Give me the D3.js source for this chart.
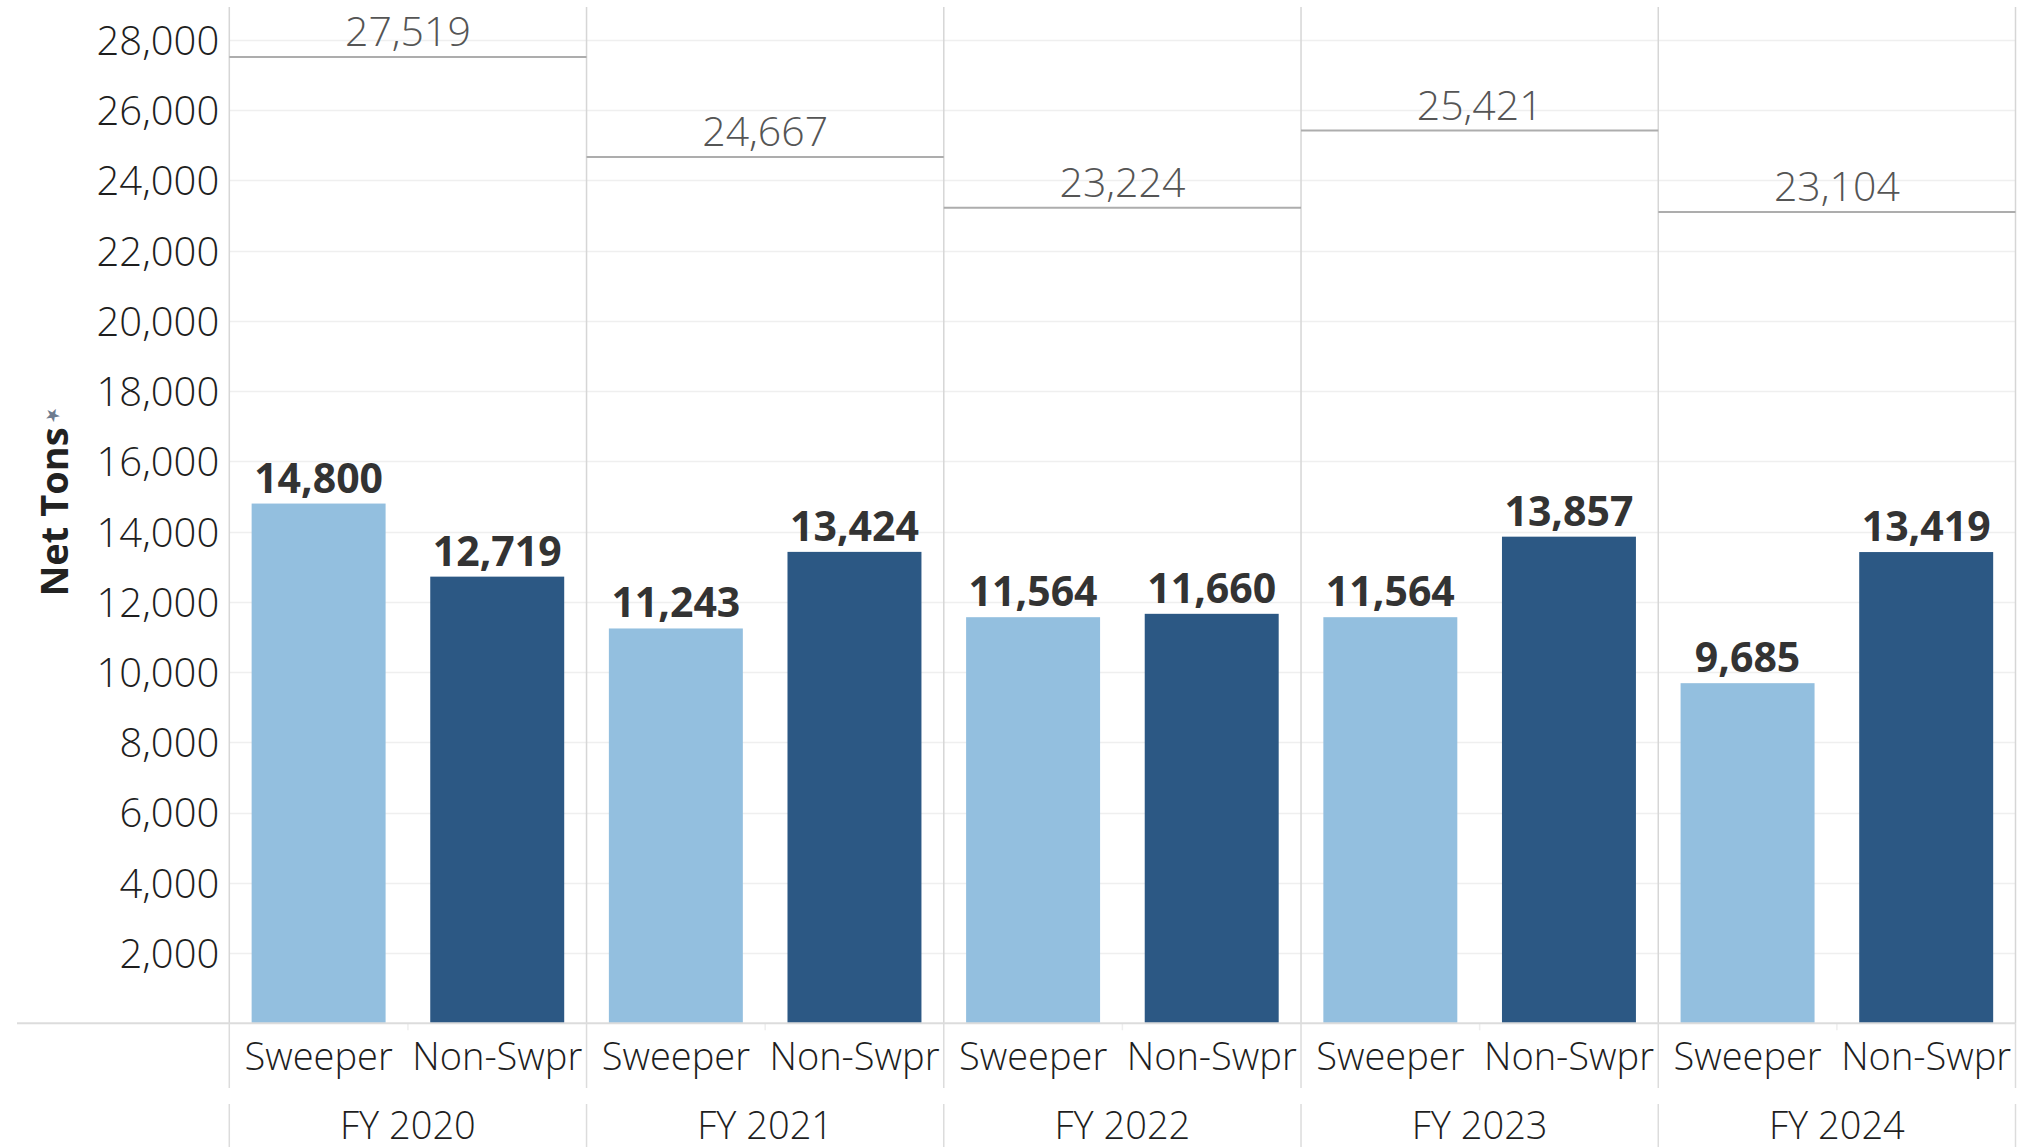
<!DOCTYPE html>
<html>
<head>
<meta charset="utf-8">
<script src="https://cdn.jsdelivr.net/npm/d3@7"></script>
<style>
  html, body { margin: 0; padding: 0; background: #fff; }
  svg { display: block; font-family: "Open Sans", sans-serif; }
</style>
</head>
<body>
<svg id="chart" width="2025" height="1147"></svg>
<script>
// ---- data ----
const years = ["FY 2020", "FY 2021", "FY 2022", "FY 2023", "FY 2024"];
const categories = ["Sweeper", "Non-Swpr"];
const sweeper = [14800, 11243, 11564, 11564, 9685];
const nonSweeper = [12719, 13424, 11660, 13857, 13419];
const totals = [27519, 24667, 23224, 25421, 23104];
const yTicks = [2000, 4000, 6000, 8000, 10000, 12000, 14000, 16000, 18000, 20000, 22000, 24000, 26000, 28000];
const yTitle = "Net Tons";
const colors = { "Sweeper": "#93bfdf", "Non-Swpr": "#2c5884" };

// ---- layout ----
const W = 2025, H = 1147;
const plotLeft = 229.3, plotRight = 2015.5, plotTop = 7, baseY = 1023.3;
const svg = d3.select("#chart");
const fmt = d3.format(",");

const x0 = d3.scaleBand().domain(years).range([plotLeft, plotRight]).padding(0);
const x1 = d3.scaleBand().domain(categories).range([0, x0.bandwidth()])
  .paddingInner(0.25).paddingOuter(0.125);
const y = d3.scaleLinear().domain([0, 28000]).range([baseY, 40]);

const rows = years.map((yr, i) => ({
  year: yr, total: totals[i],
  values: [{ cat: "Sweeper", v: sweeper[i] }, { cat: "Non-Swpr", v: nonSweeper[i] }]
}));

// gridlines
svg.append("g").selectAll("line").data(yTicks).join("line")
  .attr("x1", plotLeft).attr("x2", plotRight)
  .attr("y1", d => Math.round(y(d)) + 0.5).attr("y2", d => Math.round(y(d)) + 0.5)
  .attr("stroke", "#efefef").attr("stroke-width", 1.5);

// y axis labels via d3 axis
const yAxis = d3.axisLeft(y).tickValues(yTicks).tickFormat(fmt).tickSize(0).tickPadding(10);
const gy = svg.append("g").attr("transform", `translate(${plotLeft},0)`).call(yAxis);
gy.select(".domain").remove();
gy.selectAll("text").attr("font-size", 40).attr("fill", "#1e1e1e").attr("font-weight", 300)
  .attr("font-family", "'Open Sans', sans-serif").attr("dy", "0.36em");

// y title
svg.append("text").attr("transform", `translate(53,${512}) rotate(-90)`)
  .attr("text-anchor", "middle").attr("dominant-baseline", "central")
  .attr("font-size", 38).attr("font-weight", "bold").attr("fill", "#222")
  .text(yTitle);
svg.append("text").attr("transform", `translate(52,414) rotate(-45)`)
  .attr("text-anchor", "middle").attr("dominant-baseline", "central")
  .attr("font-size", 18).attr("fill", "#6d7c90").text("★");

// panel dividers (plot area)
const dividers = years.map(yr => x0(yr)).concat([plotRight]);
svg.append("g").selectAll("line").data(dividers).join("line")
  .attr("x1", d => d).attr("x2", d => d).attr("y1", plotTop).attr("y2", baseY)
  .attr("stroke", "#d6d6d6").attr("stroke-width", 1.5);

// header row dividers
svg.append("g").selectAll("line").data(dividers).join("line")
  .attr("x1", d => d).attr("x2", d => d).attr("y1", baseY).attr("y2", 1088)
  .attr("stroke", "#dcdcdc").attr("stroke-width", 1.5);
svg.append("g").selectAll("line").data(dividers).join("line")
  .attr("x1", d => d).attr("x2", d => d).attr("y1", 1104).attr("y2", H)
  .attr("stroke", "#dcdcdc").attr("stroke-width", 1.5);

// small separators between categories under baseline
svg.append("g").selectAll("line").data(years).join("line")
  .attr("x1", d => x0(d) + x0.bandwidth() / 2).attr("x2", d => x0(d) + x0.bandwidth() / 2)
  .attr("y1", baseY).attr("y2", baseY + 7)
  .attr("stroke", "#eeeeee").attr("stroke-width", 1.5);

// panels
const panel = svg.append("g").selectAll("g").data(rows).join("g")
  .attr("transform", d => `translate(${x0(d.year)},0)`);

// bars
panel.selectAll("rect").data(d => d.values).join("rect")
  .attr("x", d => x1(d.cat)).attr("width", x1.bandwidth())
  .attr("y", d => y(d.v)).attr("height", d => baseY - y(d.v))
  .attr("fill", d => colors[d.cat]);

// bar labels
panel.selectAll("text.bl").data(d => d.values).join("text").attr("class", "bl")
  .attr("x", d => x1(d.cat) + x1.bandwidth() / 2).attr("y", d => y(d.v) - 11)
  .attr("text-anchor", "middle").attr("font-size", 41).attr("font-weight", "bold")
  .attr("fill", "#333").text(d => fmt(d.v));

// reference lines (totals)
panel.append("line")
  .attr("x1", 0).attr("x2", x0.bandwidth())
  .attr("y1", d => y(d.total)).attr("y2", d => y(d.total))
  .attr("stroke", "#adadad").attr("stroke-width", 2);
panel.append("text")
  .attr("x", x0.bandwidth() / 2).attr("y", d => y(d.total) - 11)
  .attr("text-anchor", "middle").attr("font-size", 41).attr("font-weight", 300).attr("fill", "#555")
  .text(d => fmt(d.total));

// baseline
svg.append("line").attr("x1", 17).attr("x2", plotRight).attr("y1", baseY).attr("y2", baseY)
  .attr("stroke", "#dcdcdc").attr("stroke-width", 2);

// category header labels
panel.selectAll("text.cl").data(d => d.values).join("text").attr("class", "cl")
  .attr("x", d => x1(d.cat) + x1.bandwidth() / 2).attr("y", 1070)
  .attr("text-anchor", "middle").attr("font-size", 38).attr("font-weight", 300).attr("fill", "#1e1e1e")
  .text(d => d.cat);

// year header labels
panel.append("text").attr("x", x0.bandwidth() / 2).attr("y", 1139)
  .attr("text-anchor", "middle").attr("font-size", 38).attr("font-weight", 300).attr("fill", "#1e1e1e")
  .text(d => d.year);
</script>
</body>
</html>
